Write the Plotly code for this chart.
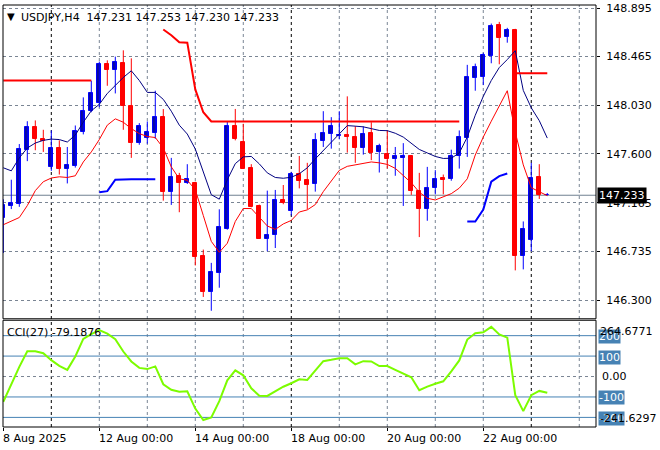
import plotly.graph_objects as go

# ---------------- data ----------------
bars = list(range(69))
opens = [147.029, 147.138, 147.153, 147.638, 147.836, 147.735, 147.488, 147.653, 147.470, 147.494,
         147.794, 147.980, 148.050, 148.403, 148.344, 148.412, 148.030, 147.700, 147.744, 147.788,
         147.927, 147.259, 147.406, 147.338, 147.344, 146.691, 146.376, 146.544, 146.935, 147.847,
         147.706, 147.479, 147.141, 146.844, 146.883, 147.191, 147.094, 147.421, 147.371, 147.329,
         147.717, 147.779, 147.759, 147.765, 147.750, 147.653, 147.785, 147.618, 147.603, 147.559,
         147.565, 147.582, 147.274, 147.112, 147.300, 147.382, 147.377, 147.580, 147.744, 148.273,
         148.286, 148.471, 148.745, 148.639, 148.706, 146.691, 146.838, 147.391, 147.231]
highs = [147.197, 147.371, 147.688, 147.891, 147.898, 147.815, 147.809, 147.721, 147.662, 147.853,
         148.103, 148.251, 148.421, 148.432, 148.465, 148.521, 148.450, 147.874, 147.889, 148.162,
         147.999, 147.565, 147.432, 147.509, 147.353, 146.750, 146.632, 147.108, 147.889, 148.000,
         147.868, 147.509, 147.150, 147.274, 147.280, 147.324, 147.441, 147.582, 147.521, 147.785,
         147.980, 147.927, 147.980, 148.112, 147.847, 147.845, 147.882, 147.691, 147.809, 147.662,
         147.696, 147.589, 147.432, 147.485, 147.456, 147.417, 147.638, 147.809, 148.392, 148.403,
         148.500, 148.759, 148.774, 148.721, 148.712, 147.000, 147.521, 147.509, 147.253]
lows = [146.720, 147.110, 147.130, 147.536, 147.633, 147.618, 147.450, 147.417, 147.338, 147.479,
        147.774, 147.971, 148.015, 148.206, 148.138, 147.815, 147.565, 147.682, 147.691, 147.735,
        147.185, 147.147, 147.082, 147.333, 146.609, 146.329, 146.206, 146.411, 146.927, 147.721,
        147.470, 147.126, 146.847, 146.735, 146.764, 147.153, 147.053, 147.294, 147.108, 147.265,
        147.662, 147.647, 147.730, 147.612, 147.521, 147.594, 147.545, 147.435, 147.470, 147.406,
        147.138, 147.236, 146.861, 147.006, 147.241, 147.241, 147.362, 147.470, 147.574, 148.162,
        148.212, 148.406, 148.397, 148.589, 146.565, 146.574, 146.735, 147.200, 147.230]
closes = [147.146, 147.160, 147.644, 147.836, 147.730, 147.712, 147.653, 147.470, 147.503, 147.803,
          147.986, 148.138, 148.403, 148.344, 148.421, 148.030, 147.700, 147.845, 147.794, 147.927,
          147.259, 147.397, 147.338, 147.377, 146.685, 146.376, 146.552, 146.950, 147.845, 147.735,
          147.470, 147.126, 146.847, 146.883, 147.191, 147.161, 147.421, 147.364, 147.326, 147.721,
          147.785, 147.845, 147.771, 147.750, 147.653, 147.779, 147.612, 147.671, 147.559, 147.582,
          147.582, 147.271, 147.112, 147.300, 147.377, 147.371, 147.580, 147.750, 148.280, 148.377,
          148.477, 148.736, 148.633, 148.701, 146.691, 146.935, 147.388, 147.233, 147.233]

upper_line = [147.477, 147.450, 147.565, 147.653, 147.697, 147.721, 147.732, 147.728, 147.706, 147.768,
              147.882, 147.984, 148.041, 148.138, 148.209, 148.280, 148.339, 148.253, 148.147, 148.147,
              148.085, 147.980, 147.856, 147.777, 147.644, 147.441, 147.238, 147.198, 147.371, 147.514,
              147.574, 147.578, 147.512, 147.432, 147.391, 147.384, 147.393, 147.424, 147.477, 147.556,
              147.631, 147.706, 147.777, 147.852, 147.847, 147.841, 147.825, 147.809, 147.807, 147.784,
              147.750, 147.697, 147.640, 147.609, 147.578, 147.560, 147.562, 147.609, 147.750, 147.944,
              148.112, 148.253, 148.368, 148.439, 148.518, 148.165, 148.010, 147.896, 147.741]
lower_line = [146.971, 147.004, 147.035, 147.141, 147.274, 147.353, 147.386, 147.397, 147.391, 147.406,
              147.529, 147.618, 147.728, 147.856, 147.912, 147.882, 147.825, 147.781, 147.755, 147.746,
              147.653, 147.485, 147.379, 147.366, 147.282, 147.053, 146.823, 146.726, 146.806, 147.000,
              147.115, 147.115, 147.035, 146.960, 146.929, 146.978, 147.009, 147.084, 147.103, 147.150,
              147.265, 147.362, 147.454, 147.490, 147.503, 147.516, 147.529, 147.521, 147.507, 147.472,
              147.412, 147.344, 147.260, 147.206, 147.191, 147.221, 147.247, 147.296, 147.379, 147.591,
              147.750, 147.891, 148.033, 148.162, 147.794, 147.503, 147.300, 147.265, 147.229]

N = None
stop_red = ([148.253] * 12 + [N] * 8 +
            [148.706, 148.655, 148.593, 148.589, 148.174, 147.971] + [147.889] * 32 +
            [N] * 6 + [148.318] * 5)
stop_blue = ([N] * 12 + [147.259, 147.269, 147.371, 147.375, 147.375, 147.375, 147.375, 147.375] +
             [N] * 38 + [147.000, 147.000, 147.106, 147.353, 147.403, 147.426] + [N] * 5)

cci = [-123.9, -37.9, 47.1, 123.9, 123.9, 114.2, 80.2, 52.0, 32.6, 98.2,
       184.2, 207.5, 226.9, 209.9, 183.2, 122.4, 73.9, 42.3, 36.4, 49.6,
       -37.9, -64.6, -74.3, -71.9, -156.9, -212.8, -200.7, -120.5, -18.5, 30.1,
       5.8, -57.3, -93.8, -94.8, -71.9, -50.0, -33.0, -13.6, -17.0, 30.1,
       75.3, 82.1, 89.9, 89.9, 59.3, 75.3, 73.9, 51.0, 51.0, 32.6,
       15.5, -3.9, -67.1, -49.1, -35.5, -23.3, 25.3, 78.7, 180.8, 212.3,
       216.2, 243.0, 206.0, 190.5, -91.3, -169.1, -91.3, -70.5, -79.2]

price_ticks = [146.300, 146.735, 147.165, 147.600, 148.030, 148.465, 148.895]
price_tick_text = ["146.300", "146.735", "147.165", "147.600", "148.030", "148.465", "148.895"]
date_tick_bars = [0, 12, 24, 36, 48, 60]
date_tick_text = ["8 Aug 2025", "12 Aug 00:00", "14 Aug 00:00", "18 Aug 00:00", "20 Aug 00:00", "22 Aug 00:00"]
grid_bars = [12, 18, 24, 30, 42, 48, 54, 60, 72]
week_bars = [6, 36, 66]
cci_levels = [200, 100, -100, -200]
cci_min, cci_max = -241.6297, 264.6771
cci_last = -79.1876
last_price = 147.233
header = "USDJPY,H4\u00a0\u00a0147.231 147.253 147.230 147.233"

# ---------------- styles ----------------
FONT = "DejaVu Sans"
BULL_FILL = "#0A0A9A"
BULL_LINE = "#0000FF"
BEAR = "#FF0000"
GRID = "#7A8594"

fig = go.Figure()

bull = [i for i in bars if closes[i] >= opens[i]]
bear = [i for i in bars if closes[i] < opens[i]]


def wicks(idx):
    xs, ys = [], []
    for i in idx:
        xs += [bars[i], bars[i], None]
        ys += [lows[i], highs[i], None]
    return xs, ys


for idx, fill, lc in ((bull, BULL_FILL, BULL_LINE), (bear, BEAR, BEAR)):
    wx, wy = wicks(idx)
    fig.add_trace(go.Scatter(x=wx, y=wy, mode="lines", line=dict(color=lc, width=1),
                             xaxis="x", yaxis="y", hoverinfo="skip"))
    fig.add_trace(go.Bar(x=[bars[i] for i in idx],
                         y=[abs(closes[i] - opens[i]) for i in idx],
                         base=[min(opens[i], closes[i]) for i in idx],
                         width=0.5, marker=dict(color=fill, line=dict(color=lc, width=1)),
                         xaxis="x", yaxis="y"))

fig.add_trace(go.Scatter(x=bars, y=upper_line, mode="lines", line=dict(color="#000080", width=1),
                         xaxis="x", yaxis="y"))
fig.add_trace(go.Scatter(x=bars, y=lower_line, mode="lines", line=dict(color="#FF0000", width=1),
                         xaxis="x", yaxis="y"))
fig.add_trace(go.Scatter(x=bars, y=stop_red, mode="lines", line=dict(color="#FF0000", width=2),
                         connectgaps=False, xaxis="x", yaxis="y"))
fig.add_trace(go.Scatter(x=bars, y=stop_blue, mode="lines", line=dict(color="#0000FF", width=2),
                         connectgaps=False, xaxis="x", yaxis="y"))
fig.add_trace(go.Scatter(x=bars, y=cci, mode="lines", line=dict(color="#7CFC00", width=2),
                         xaxis="x", yaxis="y2"))

shapes = []
for b in grid_bars:
    shapes.append(dict(type="line", xref="x", yref="paper", x0=b, x1=b, y0=0, y1=1,
                       line=dict(color=GRID, width=1, dash="3px,3px"), layer="below"))
for b in week_bars:
    shapes.append(dict(type="line", xref="x", yref="paper", x0=b, x1=b, y0=0, y1=1,
                       line=dict(color="black", width=1, dash="3px,3px"), layer="below"))
for lv in cci_levels:
    shapes.append(dict(type="line", xref="paper", yref="y2", x0=0, x1=1, y0=lv, y1=lv,
                       line=dict(color="#4682B4", width=1), layer="below"))
shapes.append(dict(type="line", xref="paper", yref="y2", x0=0, x1=1, y0=0, y1=0,
                   line=dict(color=GRID, width=1, dash="3px,3px"), layer="below"))
shapes.append(dict(type="line", xref="paper", yref="y", x0=0, x1=1, y0=last_price, y1=last_price,
                   line=dict(color="#708090", width=1), layer="below"))
MAIN_BOTTOM = (427 - 318) / 425
CCI_TOP = (427 - 319.5) / 425
shapes.append(dict(type="rect", xref="paper", yref="paper", x0=0, x1=1, y0=MAIN_BOTTOM, y1=1,
                   line=dict(color="black", width=1), fillcolor="rgba(0,0,0,0)"))
shapes.append(dict(type="rect", xref="paper", yref="paper", x0=0, x1=1, y0=0, y1=CCI_TOP,
                   line=dict(color="black", width=1), fillcolor="rgba(0,0,0,0)"))

ann = []
f11 = dict(family=FONT, size=11, color="black")
ann.append(dict(text="\u25BC", xref="paper", yref="paper", x=0, y=1, xanchor="left", yanchor="top",
                xshift=2, yshift=-4, showarrow=False, font=dict(family=FONT, size=10, color="black")))
ann.append(dict(text=header, xref="paper", yref="paper", x=0, y=1, xanchor="left", yanchor="top",
                xshift=16, yshift=-4, showarrow=False, font=f11))
ann.append(dict(text="CCI(27) %.4f" % cci_last, xref="paper", yref="paper", x=0, y=CCI_TOP,
                xanchor="left", yanchor="top", xshift=2, yshift=-4, showarrow=False, font=f11))
for b, t in zip(date_tick_bars, date_tick_text):
    ann.append(dict(text=t, xref="x", yref="paper", x=b, y=0, xanchor="left", yanchor="top",
                    xshift=-2, yshift=-3, showarrow=False, font=f11))
# CCI right labels
for lv in cci_levels:
    ann.append(dict(text=str(lv), xref="paper", yref="y2", x=1, y=lv, xanchor="left", yanchor="middle",
                    xshift=2, yshift=-1, showarrow=False, bgcolor="#4682B4", borderpad=0,
                    font=dict(family=FONT, size=11, color="white")))
ann.append(dict(text="0.00", xref="paper", yref="y2", x=1, y=0, xanchor="left", yanchor="middle",
                xshift=4, showarrow=False, font=f11))
ann.append(dict(text="%.4f" % cci_max, xref="paper", yref="y2", x=1, y=cci_max, xanchor="left",
                yanchor="top", xshift=2, yshift=-1, showarrow=False, font=f11))
ann.append(dict(text="%.4f" % cci_min, xref="paper", yref="y2", x=1, y=-200, xanchor="left",
                yanchor="middle", xshift=2, yshift=-1, showarrow=False, font=f11))
ann.append(dict(text="%.3f" % last_price, xref="paper", yref="y", x=1, y=last_price, xanchor="left",
                yanchor="middle", xshift=1, showarrow=False, bgcolor="black", borderpad=1,
                font=dict(family=FONT, size=11, color="white")))

fig.update_layout(
    width=660, height=450, margin=dict(l=3, r=64, t=2, b=23),
    paper_bgcolor="white", plot_bgcolor="white", showlegend=False,
    barmode="overlay", bargap=0,
    font=dict(family=FONT, size=11, color="black"),
    xaxis=dict(domain=[0, 1], anchor="y2", range=[-0.0375, 74.09], showgrid=False, zeroline=False,
               showticklabels=False, ticks="outside", ticklen=3, tickcolor="black",
               tickvals=date_tick_bars, showline=False, fixedrange=True),
    yaxis=dict(domain=[MAIN_BOTTOM, 1], anchor="x", side="right", range=[146.135, 148.924],
               tickvals=price_ticks, ticktext=price_tick_text, showgrid=True, gridcolor=GRID,
               griddash="3px,3px", gridwidth=1, ticks="outside", ticklen=3, tickcolor="black",
               ticklabelstandoff=4, ticklabeloverflow="allow", tickfont=f11,
               zeroline=False, showline=False),
    yaxis2=dict(domain=[0, 0.2518], anchor="x", side="right", range=[-247, 273], showgrid=False,
                zeroline=False, showticklabels=False, ticks="", showline=False),
    shapes=shapes, annotations=ann,
)

fig.write_html("out.html", config={"displayModeBar": False},
               post_script="document.body.style.margin='0';document.body.style.overflow='hidden';")
